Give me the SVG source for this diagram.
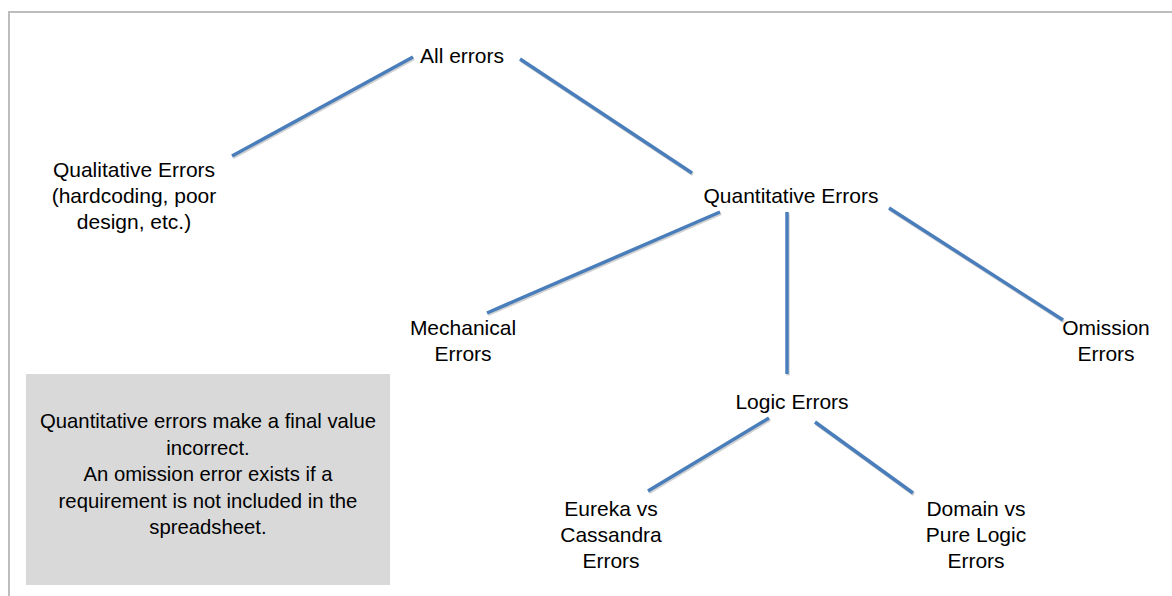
<svg xmlns="http://www.w3.org/2000/svg" width="1172" height="596" viewBox="0 0 1172 596">
<style>
  .t { font-family: "Liberation Sans", Arial, sans-serif; font-size: 21px; fill: #000; text-anchor: middle; }
  .bt { font-family: "Liberation Sans", Arial, sans-serif; font-size: 20.3px; fill: #000; text-anchor: middle; }
  .c { stroke: #4a7ebb; stroke-width: 3.5; fill: none; }
  .s { stroke: #000; stroke-opacity: 0.18; stroke-width: 3.5; fill: none; }
</style>
<rect width="1172" height="596" fill="#ffffff"/>
<path d="M9 596 V12 H1172" fill="none" stroke="#bdbdbd" stroke-width="2"/>
<g id="connectors">
  <g class="s" transform="translate(1,1.5)">
    <line x1="413" y1="57" x2="232" y2="156"/>
    <line x1="520" y1="59" x2="692" y2="173"/>
    <line x1="720" y1="212" x2="487" y2="313"/>
    <line x1="787" y1="212" x2="787" y2="374"/>
    <line x1="889" y1="208" x2="1063" y2="320"/>
    <line x1="769" y1="418" x2="648" y2="491"/>
    <line x1="815" y1="422" x2="913" y2="493"/>
  </g>
  <g class="c">
    <line x1="413" y1="57" x2="232" y2="156"/>
    <line x1="520" y1="59" x2="692" y2="173"/>
    <line x1="720" y1="212" x2="487" y2="313"/>
    <line x1="787" y1="212" x2="787" y2="374"/>
    <line x1="889" y1="208" x2="1063" y2="320"/>
    <line x1="769" y1="418" x2="648" y2="491"/>
    <line x1="815" y1="422" x2="913" y2="493"/>
  </g>
</g>
<g id="all-errors"><text class="t" x="462" y="63">All errors</text></g>
<g id="qualitative"><text class="t" x="134" y="177"><tspan x="134">Qualitative Errors</tspan><tspan x="134" y="203">(hardcoding, poor</tspan><tspan x="134" y="229">design, etc.)</tspan></text></g>
<g id="quantitative"><text class="t" x="791" y="203">Quantitative Errors</text></g>
<g id="mechanical"><text class="t" x="463" y="335"><tspan x="463">Mechanical</tspan><tspan x="463" y="361">Errors</tspan></text></g>
<g id="omission"><text class="t" x="1106" y="335"><tspan x="1106">Omission</tspan><tspan x="1106" y="361">Errors</tspan></text></g>
<g id="logic"><text class="t" x="792" y="409">Logic Errors</text></g>
<g id="eureka"><text class="t" x="611" y="516"><tspan x="611">Eureka vs</tspan><tspan x="611" y="542">Cassandra</tspan><tspan x="611" y="568">Errors</tspan></text></g>
<g id="domain"><text class="t" x="976" y="516"><tspan x="976">Domain vs</tspan><tspan x="976" y="542">Pure Logic</tspan><tspan x="976" y="568">Errors</tspan></text></g>
<g id="note">
  <rect x="26" y="374" width="364" height="211" fill="#d9d9d9"/>
  <text class="bt" x="208" y="428"><tspan x="208">Quantitative errors make a final value</tspan><tspan x="208" y="454.5">incorrect.</tspan><tspan x="208" y="481">An omission error exists if a</tspan><tspan x="208" y="507.5">requirement is not included in the</tspan><tspan x="208" y="534">spreadsheet.</tspan></text>
</g>
</svg>
